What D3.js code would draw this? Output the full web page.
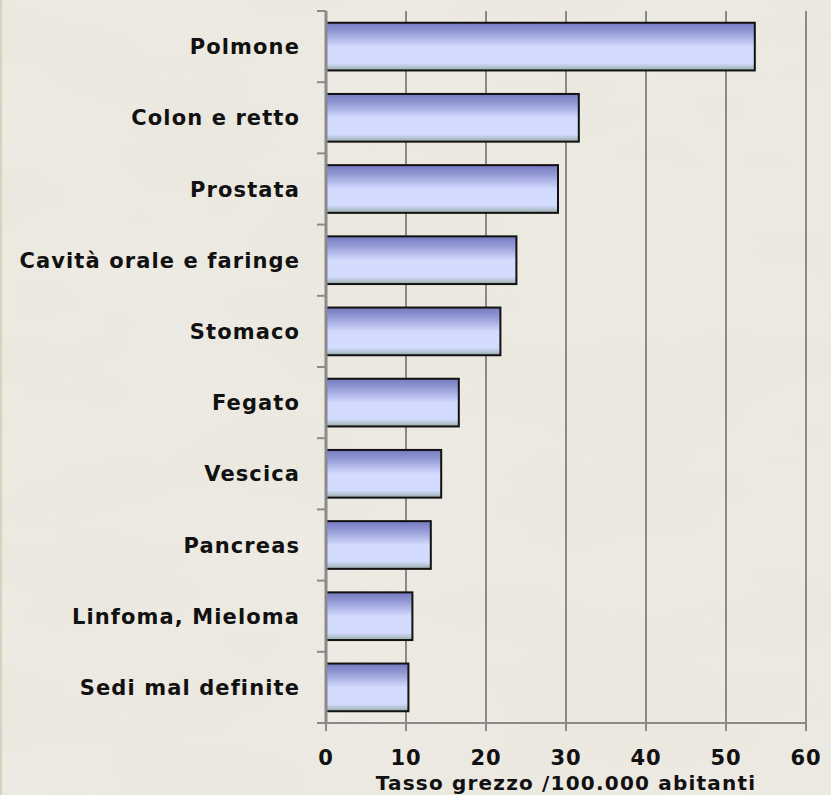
<!DOCTYPE html>
<html>
<head>
<meta charset="utf-8">
<script src="https://cdn.jsdelivr.net/npm/d3@7"></script>
<style>
  body { margin: 0; background: #ece9e1; }
  svg { display: block; }
  text { font-family: "DejaVu Sans", sans-serif; font-weight: bold; fill: #111; }
</style>
</head>
<body>
<div id="chart"></div>
<script>
// data
var categories = ["Polmone", "Colon e retto", "Prostata", "Cavità orale e faringe", "Stomaco",
                  "Fegato", "Vescica", "Pancreas", "Linfoma, Mieloma", "Sedi mal definite"];
var values = [53.6, 31.6, 29.0, 23.8, 21.8, 16.6, 14.4, 13.1, 10.8, 10.3];
var xTicks = [0, 10, 20, 30, 40, 50, 60];
var xTitle = "Tasso grezzo /100.000 abitanti";

var width = 831, height = 795;
var margin = {left: 326, right: 25, top: 11, bottom: 72};

var svg = d3.select("#chart").append("svg")
    .attr("width", width)
    .attr("height", height);

var defs = svg.append("defs");

// parchment texture
var filt = defs.append("filter").attr("id", "paper")
    .attr("x", 0).attr("y", 0).attr("width", "100%").attr("height", "100%");
filt.append("feTurbulence")
    .attr("type", "fractalNoise")
    .attr("baseFrequency", "0.004 0.012")
    .attr("numOctaves", 3)
    .attr("seed", 7)
    .attr("result", "noise");
filt.append("feColorMatrix")
    .attr("in", "noise")
    .attr("type", "matrix")
    .attr("values", "0 0 0 0 0.99  0 0 0 0 0.98  0 0 0 0 0.96  0 0 0 0.25 -0.08")
    .attr("result", "tint");
filt.append("feComposite").attr("in", "tint").attr("in2", "SourceGraphic").attr("operator", "in");

svg.append("rect").attr("width", width).attr("height", height).attr("fill", "#ebe8e0");
svg.append("rect").attr("width", width).attr("height", height).attr("fill", "#fff").attr("filter", "url(#paper)");
svg.append("rect").attr("width", 2).attr("height", height).attr("fill", "#d9d1bd");

// bar gradient
var grad = defs.append("linearGradient").attr("id", "barGrad")
    .attr("x1", 0).attr("y1", 0).attr("x2", 0).attr("y2", 1);
grad.append("stop").attr("offset", "0%").attr("stop-color", "#7479bf");
grad.append("stop").attr("offset", "20%").attr("stop-color", "#959bd6");
grad.append("stop").attr("offset", "50%").attr("stop-color", "#d2dafe");
grad.append("stop").attr("offset", "84%").attr("stop-color", "#d3dcff");
grad.append("stop").attr("offset", "92%").attr("stop-color", "#b9c6d8");
grad.append("stop").attr("offset", "100%").attr("stop-color", "#93a79b");

var x = d3.scaleLinear()
    .domain([0, 60])
    .range([margin.left, width - margin.right]);

var y = d3.scaleBand()
    .domain(categories)
    .range([margin.top, height - margin.bottom])
    .paddingInner(0.33)
    .paddingOuter(0.165);

// gridlines
svg.append("g")
    .selectAll("line")
    .data(xTicks.slice(1))
    .enter()
    .append("line")
    .attr("x1", d => x(d)).attr("x2", d => x(d))
    .attr("y1", margin.top).attr("y2", height - margin.bottom)
    .attr("stroke", "#8a8a8a")
    .attr("stroke-width", 2);

// bars
svg.append("g")
    .selectAll("rect")
    .data(values)
    .enter()
    .append("rect")
    .attr("x", x(0))
    .attr("y", (d, i) => y(categories[i]))
    .attr("width", d => x(d) - x(0))
    .attr("height", y.bandwidth())
    .attr("fill", "url(#barGrad)")
    .attr("stroke", "#111")
    .attr("stroke-width", 2);

// y axis
var yBands = d3.range(categories.length + 1).map(i => margin.top + i * y.step());
var gy = svg.append("g");
gy.append("line")
    .attr("x1", x(0)).attr("x2", x(0))
    .attr("y1", margin.top).attr("y2", height - margin.bottom)
    .attr("stroke", "#8a8a8a").attr("stroke-width", 3);
gy.selectAll("line.tick")
    .data(yBands)
    .enter()
    .append("line")
    .attr("class", "tick")
    .attr("x1", x(0) - 9).attr("x2", x(0))
    .attr("y1", d => d).attr("y2", d => d)
    .attr("stroke", "#8a8a8a").attr("stroke-width", 2);
gy.selectAll("text")
    .data(categories)
    .enter()
    .append("text")
    .attr("x", x(0) - 26)
    .attr("y", d => y(d) + y.bandwidth() / 2)
    .attr("dy", "0.36em")
    .attr("text-anchor", "end")
    .style("font-size", "21px")
    .style("letter-spacing", "1.1px")
    .text(d => d);

// x axis
var gx = svg.append("g");
var x0y = height - margin.bottom;
gx.append("line")
    .attr("x1", x(0) - 9).attr("x2", x(60))
    .attr("y1", x0y).attr("y2", x0y)
    .attr("stroke", "#8a8a8a").attr("stroke-width", 2);
gx.selectAll("line.tick")
    .data(xTicks)
    .enter()
    .append("line")
    .attr("class", "tick")
    .attr("x1", d => x(d)).attr("x2", d => x(d))
    .attr("y1", x0y).attr("y2", x0y + 8)
    .attr("stroke", "#8a8a8a").attr("stroke-width", 2);
gx.selectAll("text")
    .data(xTicks)
    .enter()
    .append("text")
    .attr("x", d => x(d))
    .attr("y", 765)
    .attr("text-anchor", "middle")
    .style("font-size", "21px")
    .style("letter-spacing", "1px")
    .text(d => d);

svg.append("text")
    .attr("x", 566)
    .attr("y", 790)
    .attr("text-anchor", "middle")
    .style("font-size", "20px")
    .style("letter-spacing", "1.2px")
    .text(xTitle);
</script>
</body>
</html>
